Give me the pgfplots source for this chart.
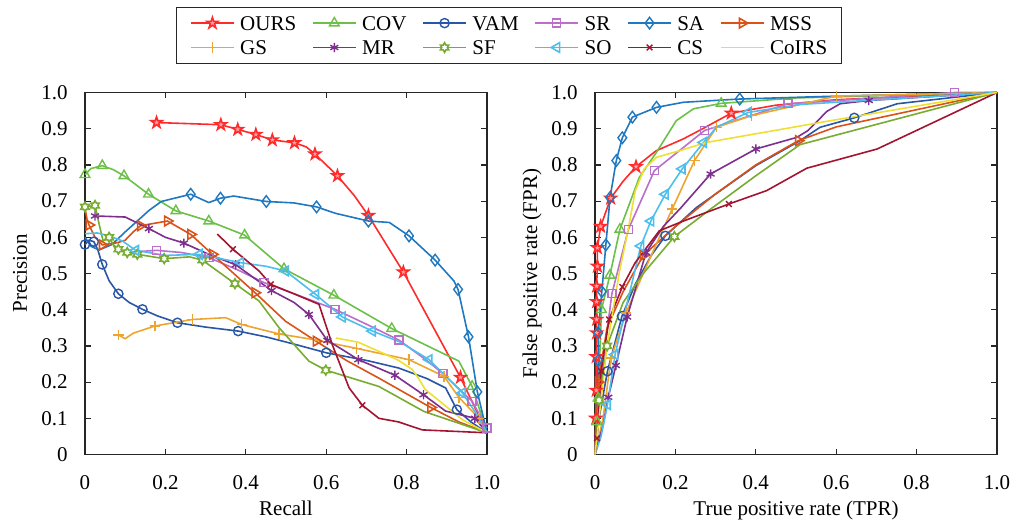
\documentclass[border=0pt]{standalone}
\usepackage{fontspec}
\setmainfont{Liberation Serif}
\usepackage{pgfplots}
\pgfplotsset{compat=1.18}

\definecolor{cOURS}{HTML}{FF2A2A}
\definecolor{cCOV}{HTML}{6CC04A}
\definecolor{cVAM}{HTML}{2A56A8}
\definecolor{cSR}{HTML}{BA6FCB}
\definecolor{cSA}{HTML}{1F78C0}
\definecolor{cMSS}{HTML}{D95319}
\definecolor{cGS}{HTML}{EDA531}
\definecolor{cMR}{HTML}{7E2F8E}
\definecolor{cSF}{HTML}{77AC30}
\definecolor{cSO}{HTML}{4DBEEE}
\definecolor{cCS}{HTML}{A2142F}
\definecolor{cCoIRS}{HTML}{EDE032}
\definecolor{axgray}{HTML}{262626}

% matlab-like pentagram and hexagram marks
\pgfdeclareplotmark{pentagram}{%
  \pgfpathmoveto{\pgfpointpolar{90}{\pgfplotmarksize}}%
  \pgfpathlineto{\pgfpointpolar{126}{0.382\pgfplotmarksize}}%
  \pgfpathlineto{\pgfpointpolar{162}{\pgfplotmarksize}}%
  \pgfpathlineto{\pgfpointpolar{198}{0.382\pgfplotmarksize}}%
  \pgfpathlineto{\pgfpointpolar{234}{\pgfplotmarksize}}%
  \pgfpathlineto{\pgfpointpolar{270}{0.382\pgfplotmarksize}}%
  \pgfpathlineto{\pgfpointpolar{306}{\pgfplotmarksize}}%
  \pgfpathlineto{\pgfpointpolar{342}{0.382\pgfplotmarksize}}%
  \pgfpathlineto{\pgfpointpolar{18}{\pgfplotmarksize}}%
  \pgfpathlineto{\pgfpointpolar{54}{0.382\pgfplotmarksize}}%
  \pgfpathclose\pgfusepathqfillstroke}
\pgfdeclareplotmark{hexagram}{%
  \pgfpathmoveto{\pgfpointpolar{90}{\pgfplotmarksize}}%
  \pgfpathlineto{\pgfpointpolar{120}{0.577\pgfplotmarksize}}%
  \pgfpathlineto{\pgfpointpolar{150}{\pgfplotmarksize}}%
  \pgfpathlineto{\pgfpointpolar{180}{0.577\pgfplotmarksize}}%
  \pgfpathlineto{\pgfpointpolar{210}{\pgfplotmarksize}}%
  \pgfpathlineto{\pgfpointpolar{240}{0.577\pgfplotmarksize}}%
  \pgfpathlineto{\pgfpointpolar{270}{\pgfplotmarksize}}%
  \pgfpathlineto{\pgfpointpolar{300}{0.577\pgfplotmarksize}}%
  \pgfpathlineto{\pgfpointpolar{330}{\pgfplotmarksize}}%
  \pgfpathlineto{\pgfpointpolar{0}{0.577\pgfplotmarksize}}%
  \pgfpathlineto{\pgfpointpolar{30}{\pgfplotmarksize}}%
  \pgfpathlineto{\pgfpointpolar{60}{0.577\pgfplotmarksize}}%
  \pgfpathclose\pgfusepathqfillstroke}

\pgfplotsset{
  ser/.style={line width=0.8pt, mark options={solid, line width=0.7pt}},
  sOURS/.style={ser, color=cOURS, mark=pentagram, mark size=2.9pt, mark options={fill=cOURS!45}},
  sCOV/.style={ser, color=cCOV, mark=triangle, mark size=2.8pt},
  sVAM/.style={ser, color=cVAM, mark=o, mark size=2.3pt},
  sSR/.style={ser, color=cSR, mark=square, mark size=2pt},
  sSA/.style={ser, color=cSA, mark=diamond, mark size=2.9pt},
  sMSS/.style={ser, color=cMSS, mark=triangle, mark size=2.8pt, mark options={rotate=-90}},
  sGS/.style={ser, color=cGS, mark=+, mark size=2.6pt},
  sMR/.style={ser, color=cMR, mark=asterisk, mark size=2.3pt},
  sSF/.style={ser, color=cSF, mark=hexagram, mark size=2.4pt, mark options={fill=white}},
  sSO/.style={ser, color=cSO, mark=triangle, mark size=2.8pt, mark options={rotate=90}},
  sCS/.style={ser, color=cCS, mark=x, mark size=2pt},
  sCoIRS/.style={ser, color=cCoIRS, mark=none},
  base/.style={
    scale only axis, width=201pt, height=181pt,
    xmin=0, xmax=1, ymin=0, ymax=1, clip=false,
    xtick={0,0.2,0.4,0.6,0.8,1}, xticklabels={0,0.2,0.4,0.6,0.8,1.0},
    ytick={0,0.1,0.2,0.3,0.4,0.5,0.6,0.7,0.8,0.9,1},
    yticklabels={0,0.1,0.2,0.3,0.4,0.5,0.6,0.7,0.8,0.9,1.0},
    tick align=inside, major tick length=2.8pt,
    axis line style={color=axgray, line width=0.6pt},
    every tick/.style={color=axgray, line width=0.6pt},
    xticklabel style={yshift=-7pt}, yticklabel style={xshift=-5pt},
    xlabel style={at={([yshift=-30.5pt]axis description cs:0.5,0)}, anchor=base},
    ylabel style={at={([xshift=-29pt]axis description cs:0,0.5)}, anchor=base},
    legend image code/.code={\draw[mark repeat=2,mark phase=2,##1] plot coordinates {(0pt,0pt)(10.65pt,0pt)(21.3pt,0pt)};},
  },
}

\begin{document}
\fontsize{10.5}{12.6}\selectfont
\begin{tikzpicture}
\useasboundingbox (0pt,0pt) rectangle (506pt,-260.5pt);

% ---------------- precision / recall
\begin{axis}[base, at={(42.5pt,-227.25pt)}, anchor=south west,
  xlabel={Recall}, ylabel={Precision},
  legend columns=6,
  legend style={at={(1.0542,1.158)}, anchor=center, draw=axgray, line width=0.6pt,
    inner xsep=7pt, inner ysep=3.4pt, row sep=3.2pt,
    nodes={inner sep=0pt, text height=8pt, text depth=1pt},
    /tikz/every odd column/.append style={column sep=2.85pt},
    /tikz/every even column/.append style={column sep=8pt}},
  legend cell align=left]

\addlegendimage{sOURS}\addlegendentry{OURS}
\addlegendimage{sCOV}\addlegendentry{COV}
\addlegendimage{sVAM}\addlegendentry{VAM}
\addlegendimage{sSR}\addlegendentry{SR}
\addlegendimage{sSA}\addlegendentry{SA}
\addlegendimage{sMSS}\addlegendentry{MSS}
\addlegendimage{sGS}\addlegendentry{GS}
\addlegendimage{sMR}\addlegendentry{MR}
\addlegendimage{sSF}\addlegendentry{SF}
\addlegendimage{sSO}\addlegendentry{SO}
\addlegendimage{sCS}\addlegendentry{CS}
\addlegendimage{sCoIRS}\addlegendentry{CoIRS}

\addplot[sOURS, no marks, forget plot] coordinates {(0.178,0.917)(0.338,0.911)(0.38,0.898)(0.425,0.884)(0.466,0.869)(0.521,0.861)(0.55,0.85)(0.572,0.830)(0.60,0.80)(0.628,0.770)(0.67,0.715)(0.705,0.660)(0.792,0.504)(0.934,0.213)(1,0.06)};
\addplot[sOURS, only marks, forget plot] coordinates {(0.178,0.917)(0.338,0.911)(0.38,0.898)(0.425,0.884)(0.466,0.869)(0.521,0.861)(0.572,0.830)(0.628,0.770)(0.705,0.660)(0.792,0.504)(0.934,0.213)};

\addplot[sCOV, no marks, forget plot] coordinates {(0,0.773)(0.015,0.79)(0.043,0.798)(0.07,0.787)(0.097,0.77)(0.158,0.719)(0.226,0.673)(0.308,0.645)(0.397,0.606)(0.495,0.513)(0.619,0.44)(0.763,0.348)(0.88,0.285)(0.93,0.258)(0.963,0.188)(1,0.06)};
\addplot[sCOV, only marks, forget plot] coordinates {(0,0.773)(0.043,0.798)(0.097,0.77)(0.158,0.719)(0.226,0.673)(0.308,0.645)(0.397,0.606)(0.495,0.513)(0.619,0.44)(0.763,0.348)(0.963,0.188)};

\addplot[sVAM, no marks, forget plot] coordinates {(0,0.58)(0.01,0.592)(0.022,0.588)(0.032,0.565)(0.043,0.525)(0.06,0.48)(0.083,0.444)(0.11,0.42)(0.143,0.401)(0.18,0.383)(0.23,0.364)(0.3,0.352)(0.381,0.341)(0.45,0.325)(0.52,0.305)(0.6,0.281)(0.7,0.26)(0.78,0.239)(0.85,0.21)(0.897,0.184)(0.925,0.124)(0.96,0.09)(1,0.06)};
\addplot[sVAM, only marks, forget plot] coordinates {(0,0.58)(0.022,0.588)(0.043,0.525)(0.083,0.444)(0.143,0.401)(0.23,0.364)(0.381,0.341)(0.6,0.281)(0.925,0.124)};

\addplot[sSR, no marks, forget plot] coordinates {(0.1,0.558)(0.178,0.564)(0.24,0.558)(0.308,0.544)(0.38,0.51)(0.445,0.475)(0.53,0.44)(0.622,0.401)(0.7,0.36)(0.781,0.316)(0.85,0.26)(0.891,0.223)(0.963,0.147)(1,0.073)};
\addplot[sSR, only marks, forget plot] coordinates {(0.178,0.564)(0.308,0.544)(0.445,0.475)(0.622,0.401)(0.781,0.316)(0.891,0.223)(0.963,0.147)(1,0.073)};

\addplot[sSA, no marks, forget plot] coordinates {(0,0.6)(0.015,0.575)(0.035,0.565)(0.067,0.58)(0.1,0.615)(0.13,0.645)(0.16,0.675)(0.19,0.699)(0.263,0.719)(0.29,0.705)(0.308,0.696)(0.337,0.708)(0.37,0.714)(0.451,0.699)(0.52,0.695)(0.576,0.684)(0.624,0.666)(0.705,0.645)(0.757,0.641)(0.806,0.604)(0.871,0.537)(0.918,0.479)(0.928,0.456)(0.954,0.325)(0.976,0.173)(1,0.06)};
\addplot[sSA, only marks, forget plot] coordinates {(0.263,0.719)(0.337,0.708)(0.451,0.699)(0.576,0.684)(0.705,0.645)(0.806,0.604)(0.871,0.537)(0.928,0.456)(0.954,0.325)(0.976,0.173)};

\addplot[sMSS, no marks, forget plot] coordinates {(0,0.68)(0.005,0.65)(0.01,0.634)(0.025,0.6)(0.043,0.579)(0.08,0.585)(0.1,0.592)(0.12,0.615)(0.138,0.632)(0.205,0.645)(0.263,0.608)(0.317,0.553)(0.37,0.5)(0.423,0.447)(0.499,0.368)(0.575,0.313)(0.65,0.26)(0.731,0.211)(0.86,0.13)(0.93,0.09)(1,0.06)};
\addplot[sMSS, only marks, forget plot] coordinates {(0.01,0.634)(0.043,0.579)(0.138,0.632)(0.205,0.645)(0.263,0.608)(0.317,0.553)(0.423,0.447)(0.575,0.313)(0.86,0.13)};

\addplot[sGS, no marks, forget plot] coordinates {(0.083,0.33)(0.1,0.32)(0.12,0.335)(0.174,0.355)(0.23,0.366)(0.267,0.373)(0.35,0.378)(0.39,0.359)(0.483,0.333)(0.566,0.318)(0.676,0.293)(0.806,0.262)(0.893,0.216)(0.93,0.158)(0.98,0.10)(1,0.06)};
\addplot[sGS, only marks, forget plot] coordinates {(0.083,0.33)(0.174,0.355)(0.267,0.373)(0.39,0.359)(0.483,0.333)(0.676,0.293)(0.806,0.262)(0.893,0.216)(0.93,0.158)(0.98,0.10)};

\addplot[sMR, no marks, forget plot] coordinates {(0.025,0.659)(0.1,0.656)(0.159,0.624)(0.2,0.6)(0.246,0.584)(0.308,0.553)(0.375,0.524)(0.464,0.453)(0.52,0.42)(0.557,0.387)(0.603,0.315)(0.64,0.29)(0.68,0.262)(0.771,0.219)(0.842,0.165)(0.897,0.12)(0.97,0.1)(1,0.06)};
\addplot[sMR, only marks, forget plot] coordinates {(0.025,0.659)(0.159,0.624)(0.246,0.584)(0.375,0.524)(0.464,0.453)(0.557,0.387)(0.603,0.315)(0.68,0.262)(0.771,0.219)(0.842,0.165)(0.97,0.10)};

\addplot[sSF, no marks, forget plot] coordinates {(0,0.684)(0.025,0.688)(0.035,0.637)(0.045,0.59)(0.06,0.6)(0.07,0.58)(0.083,0.567)(0.105,0.558)(0.13,0.553)(0.197,0.541)(0.26,0.546)(0.292,0.537)(0.373,0.472)(0.433,0.424)(0.483,0.35)(0.557,0.258)(0.599,0.233)(0.731,0.188)(0.843,0.119)(1,0.06)};
\addplot[sSF, only marks, forget plot] coordinates {(0,0.684)(0.025,0.688)(0.06,0.6)(0.083,0.567)(0.105,0.558)(0.13,0.553)(0.197,0.541)(0.292,0.537)(0.373,0.472)(0.599,0.233)};

\addplot[sSO, no marks, forget plot] coordinates {(0,0.61)(0.03,0.612)(0.06,0.604)(0.093,0.59)(0.126,0.564)(0.2,0.55)(0.284,0.553)(0.387,0.53)(0.45,0.52)(0.499,0.507)(0.574,0.442)(0.64,0.38)(0.715,0.341)(0.785,0.31)(0.856,0.262)(0.939,0.17)(0.975,0.11)(1,0.06)};
\addplot[sSO, only marks, forget plot] coordinates {(0.126,0.564)(0.284,0.553)(0.387,0.53)(0.499,0.507)(0.574,0.442)(0.64,0.38)(0.715,0.341)(0.856,0.262)(0.939,0.17)};

\addplot[sCS, no marks, forget plot] coordinates {(0.329,0.609)(0.368,0.567)(0.433,0.507)(0.462,0.47)(0.524,0.442)(0.582,0.415)(0.615,0.304)(0.657,0.184)(0.69,0.136)(0.731,0.1)(0.78,0.09)(0.839,0.068)(1,0.06)};
\addplot[sCS, only marks, forget plot] coordinates {(0.368,0.567)(0.462,0.47)(0.69,0.136)};

\addplot[sCoIRS, forget plot] coordinates {(0.624,0.322)(0.68,0.31)(0.731,0.285)(0.78,0.26)(0.814,0.235)(0.83,0.21)(0.846,0.18)(0.939,0.096)(1,0.06)};
\end{axis}

% ---------------- ROC
\begin{axis}[base, at={(297.5pt,-227.25pt)}, anchor=south west,
  xlabel={True positive rate (TPR)}, ylabel={False positive rate (FPR)}]

\addplot[sOURS, no marks] coordinates {(0,0)(0.002,0.1)(0.003,0.177)(0.003,0.27)(0.004,0.336)(0.004,0.373)(0.004,0.422)(0.004,0.465)(0.006,0.52)(0.006,0.571)(0.014,0.63)(0.039,0.708)(0.07,0.755)(0.102,0.795)(0.152,0.839)(0.22,0.872)(0.268,0.9)(0.339,0.943)(0.45,0.965)(0.6,0.98)(0.8,0.99)(1,1)};
\addplot[sOURS, only marks] coordinates {(0.002,0.1)(0.003,0.177)(0.003,0.27)(0.004,0.336)(0.004,0.373)(0.004,0.422)(0.004,0.465)(0.006,0.52)(0.006,0.571)(0.014,0.63)(0.039,0.708)(0.102,0.795)(0.339,0.943)};

\addplot[sCOV, no marks] coordinates {(0,0)(0.005,0.09)(0.008,0.156)(0.016,0.4)(0.037,0.495)(0.062,0.622)(0.11,0.765)(0.153,0.835)(0.202,0.922)(0.245,0.955)(0.314,0.97)(0.5,0.985)(1,1)};
\addplot[sCOV, only marks] coordinates {(0.005,0.09)(0.008,0.156)(0.016,0.4)(0.037,0.495)(0.062,0.622)(0.314,0.97)};

\addplot[sVAM, no marks] coordinates {(0,0)(0.01,0.1)(0.031,0.23)(0.067,0.382)(0.1,0.47)(0.14,0.55)(0.175,0.604)(0.252,0.682)(0.4,0.798)(0.51,0.867)(0.56,0.904)(0.645,0.93)(0.752,0.969)(1,1)};
\addplot[sVAM, only marks] coordinates {(0.031,0.23)(0.067,0.382)(0.175,0.604)(0.645,0.93)};

\addplot[sSR, no marks] coordinates {(0,0)(0.01,0.15)(0.025,0.3)(0.042,0.444)(0.083,0.622)(0.1475,0.784)(0.2725,0.895)(0.48,0.969)(0.7,0.985)(0.895,1)(1,1)};
\addplot[sSR, only marks] coordinates {(0.042,0.444)(0.083,0.622)(0.1475,0.784)(0.2725,0.895)(0.48,0.969)(0.895,1)};

\addplot[sSA, no marks] coordinates {(0,0)(0.005,0.15)(0.008,0.26)(0.008,0.336)(0.017,0.45)(0.027,0.579)(0.0375,0.71)(0.053,0.812)(0.068,0.875)(0.093,0.932)(0.153,0.959)(0.22,0.973)(0.36,0.982)(0.6,0.99)(1,1)};
\addplot[sSA, only marks] coordinates {(0.008,0.26)(0.008,0.336)(0.017,0.45)(0.027,0.579)(0.0375,0.71)(0.053,0.812)(0.068,0.875)(0.093,0.932)(0.153,0.959)(0.36,0.982)};

\addplot[sMSS, no marks] coordinates {(0,0)(0.008,0.2)(0.03,0.35)(0.07,0.45)(0.12,0.55)(0.2,0.63)(0.3,0.72)(0.4,0.8)(0.506,0.867)(0.6,0.905)(1,1)};
\addplot[sMSS, only marks] coordinates {(0.008,0.2)(0.12,0.55)(0.506,0.867)};

\addplot[sGS, no marks] coordinates {(0,0)(0.02,0.1)(0.04,0.267)(0.077,0.391)(0.12,0.5)(0.16,0.6)(0.192,0.678)(0.2475,0.812)(0.302,0.904)(0.389,0.936)(0.48,0.959)(0.6,0.99)(1,1)};
\addplot[sGS, only marks] coordinates {(0.04,0.267)(0.077,0.391)(0.192,0.678)(0.2475,0.812)(0.302,0.904)(0.389,0.936)(0.6,0.99)};

\addplot[sMR, no marks] coordinates {(0,0)(0.02,0.08)(0.033,0.158)(0.052,0.246)(0.08,0.38)(0.127,0.558)(0.17,0.63)(0.214,0.682)(0.2875,0.775)(0.4,0.844)(0.502,0.876)(0.53,0.895)(0.577,0.948)(0.61,0.969)(0.681,0.978)(1,1)};
\addplot[sMR, only marks] coordinates {(0.033,0.158)(0.052,0.246)(0.08,0.38)(0.127,0.558)(0.2875,0.775)(0.4,0.844)(0.681,0.978)};

\addplot[sSF, no marks] coordinates {(0,0)(0.01,0.15)(0.03,0.3)(0.07,0.42)(0.12,0.5)(0.1975,0.602)(0.29,0.68)(0.4,0.77)(0.51,0.856)(1,1)};
\addplot[sSF, only marks] coordinates {(0.01,0.15)(0.03,0.3)(0.1975,0.602)};

\addplot[sSO, no marks] coordinates {(0,0)(0.015,0.05)(0.031,0.138)(0.05,0.276)(0.085,0.442)(0.114,0.576)(0.139,0.645)(0.175,0.719)(0.217,0.789)(0.27,0.862)(0.302,0.904)(0.381,0.945)(0.51,0.967)(1,1)};
\addplot[sSO, only marks] coordinates {(0.031,0.138)(0.05,0.276)(0.114,0.576)(0.139,0.645)(0.175,0.719)(0.217,0.789)(0.27,0.862)(0.381,0.945)};

\addplot[sCS, no marks] coordinates {(0,0)(0.005,0.045)(0.015,0.23)(0.035,0.373)(0.068,0.463)(0.1,0.53)(0.16,0.618)(0.22,0.645)(0.333,0.692)(0.427,0.729)(0.527,0.791)(0.702,0.844)(1,1)};
\addplot[sCS, only marks] coordinates {(0.005,0.045)(0.015,0.23)(0.035,0.373)(0.068,0.463)(0.333,0.692)};

\addplot[sCoIRS] coordinates {(0,0)(0.01,0.1)(0.03,0.3)(0.06,0.5)(0.085,0.636)(0.1,0.728)(0.1225,0.789)(0.153,0.821)(0.21,0.839)(0.277,0.862)(0.585,0.922)(1,1)};
\end{axis}
\end{tikzpicture}
\end{document}
